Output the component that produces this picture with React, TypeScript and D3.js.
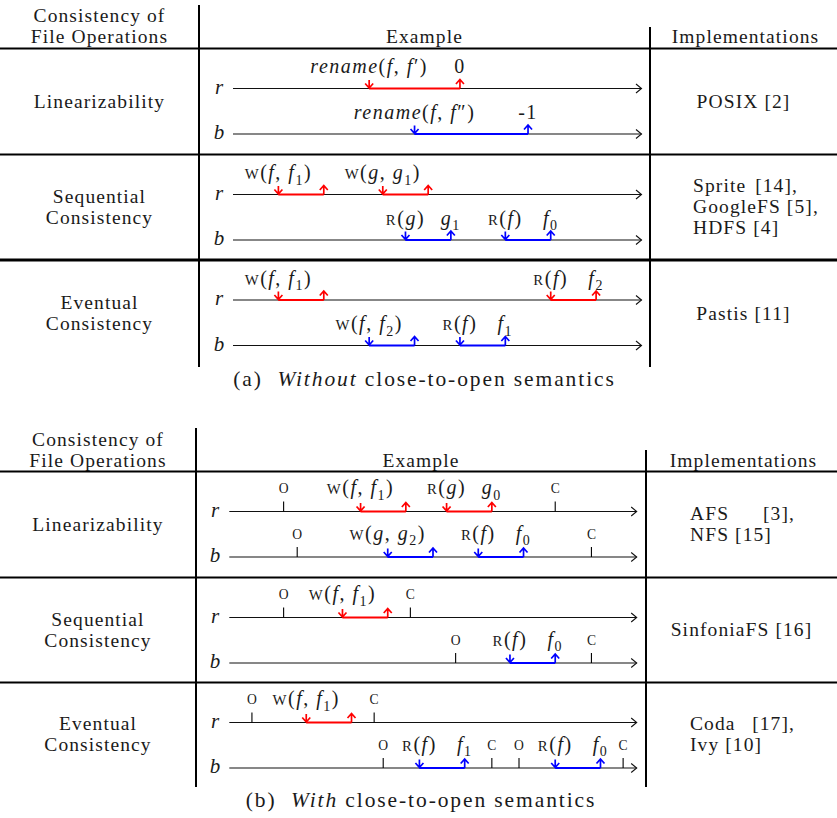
import React from "react";
import * as d3 from "d3";

type Seg = { t: string; i?: boolean; sub?: boolean; sc?: boolean };
const n = (t: string): Seg => ({ t });
const it = (t: string): Seg => ({ t, i: true });
const sc = (t: string): Seg => ({ t, sc: true });
const sb = (t: string): Seg => ({ t, sub: true });

const Wr = (a: string, b: string, s: string): Seg[] => [sc("W"), n("("), it(a), n(", "), it(b), sb(s), n(")")];
const Rd = (a: string): Seg[] => [sc("R"), n("("), it(a), n(")")];
const Vs = (a: string, s: string): Seg[] => [it(a), sb(s)];
const Rn = (p: string): Seg[] => [it("rename"), n("("), it("f"), n(", "), it("f"), n(p), n(")")];

type Ev = { track: number; s: number; e: number; ls: Seg[]; le: Seg[] };
type Tk = { track: number; p: number; l: string };
type Row = { name: string[]; impl: string[]; implMode: "center" | "justify"; events: Ev[]; ticks: Tk[] };

// ---------- Data ----------
const headerLeft = ["Consistency of", "File Operations"];
const headerMid = "Example";
const headerRight = "Implementations";
const trackNames = ["r", "b"];

const rowNamesA = [["Linearizability"], ["Sequential", "Consistency"], ["Eventual", "Consistency"]];
const implA = [["POSIX [2]"], ["Sprite|[14],", "GoogleFS [5],", "HDFS [4]"], ["Pastis [11]"]];
const implModeA: ("center" | "justify")[] = ["center", "justify", "center"];

const eventsA1: Ev[] = [
  { track: 0, s: 3.0, e: 5.0, ls: Rn("′"), le: [n("0")] },
  { track: 1, s: 4.0, e: 6.5, ls: Rn("″"), le: [n("-1")] },
];
const eventsA2: Ev[] = [
  { track: 0, s: 1.0, e: 2.0, ls: Wr("f", "f", "1"), le: [] },
  { track: 0, s: 3.3, e: 4.3, ls: Wr("g", "g", "1"), le: [] },
  { track: 1, s: 3.8, e: 4.8, ls: Rd("g"), le: Vs("g", "1") },
  { track: 1, s: 6.0, e: 7.0, ls: Rd("f"), le: Vs("f", "0") },
];
const eventsA3: Ev[] = [
  { track: 0, s: 1.0, e: 2.0, ls: Wr("f", "f", "1"), le: [] },
  { track: 0, s: 7.0, e: 8.0, ls: Rd("f"), le: Vs("f", "2") },
  { track: 1, s: 3.0, e: 4.0, ls: Wr("f", "f", "2"), le: [] },
  { track: 1, s: 5.0, e: 6.0, ls: Rd("f"), le: Vs("f", "1") },
];

const rowNamesB = [["Linearizability"], ["Sequential", "Consistency"], ["Eventual", "Consistency"]];
const implB = [["AFS|[3],", "NFS [15]"], ["SinfoniaFS [16]"], ["Coda|[17],", "Ivy [10]"]];
const implModeB: ("center" | "justify")[] = ["justify", "center", "justify"];

const eventsB1: Ev[] = [
  { track: 0, s: 2.9, e: 3.9, ls: Wr("f", "f", "1"), le: [] },
  { track: 0, s: 4.8, e: 5.8, ls: Rd("g"), le: Vs("g", "0") },
  { track: 1, s: 3.5, e: 4.5, ls: Wr("g", "g", "2"), le: [] },
  { track: 1, s: 5.5, e: 6.5, ls: Rd("f"), le: Vs("f", "0") },
];
const ticksB1: Tk[] = [
  { track: 0, p: 1.2, l: "O" }, { track: 0, p: 7.2, l: "C" },
  { track: 1, p: 1.5, l: "O" }, { track: 1, p: 8.0, l: "C" },
];
const eventsB2: Ev[] = [
  { track: 0, s: 2.5, e: 3.5, ls: Wr("f", "f", "1"), le: [] },
  { track: 1, s: 6.2, e: 7.2, ls: Rd("f"), le: Vs("f", "0") },
];
const ticksB2: Tk[] = [
  { track: 0, p: 1.2, l: "O" }, { track: 0, p: 4.0, l: "C" },
  { track: 1, p: 5.0, l: "O" }, { track: 1, p: 8.0, l: "C" },
];
const eventsB3: Ev[] = [
  { track: 0, s: 1.7, e: 2.7, ls: Wr("f", "f", "1"), le: [] },
  { track: 1, s: 4.2, e: 5.2, ls: Rd("f"), le: Vs("f", "1") },
  { track: 1, s: 7.2, e: 8.2, ls: Rd("f"), le: Vs("f", "0") },
];
const ticksB3: Tk[] = [
  { track: 0, p: 0.5, l: "O" }, { track: 0, p: 3.2, l: "C" },
  { track: 1, p: 3.4, l: "O" }, { track: 1, p: 5.8, l: "C" },
  { track: 1, p: 6.4, l: "O" }, { track: 1, p: 8.7, l: "C" },
];
const timeDomain = [0, 9];

const rowsA: Row[] = [eventsA1, eventsA2, eventsA3].map((ev, k) => ({
  name: rowNamesA[k], impl: implA[k], implMode: implModeA[k], events: ev, ticks: [],
}));
const rowsB: Row[] = [[eventsB1, ticksB1], [eventsB2, ticksB2], [eventsB3, ticksB3]].map((p, k) => ({
  name: rowNamesB[k], impl: implB[k], implMode: implModeB[k], events: p[0] as Ev[], ticks: p[1] as Tk[],
}));

// ---------- Style ----------
const FONT = "'Liberation Serif', 'Times New Roman', serif";
const FS = 19.5;
const LS = 1.1;
const LFS = 20;
const RED = "#ff0000";
const BLUE = "#0000ff";
const INK = "#1a1a1a";

function Label({ x, y, segs, size, anchor = "middle", ls = 1.5, scale = 0.74 }: { x: number; y: number; segs: Seg[]; size: number; anchor?: string; ls?: number; scale?: number }) {
  let cur = 0;
  const parts = segs.map((s, k) => {
    const target = s.sub ? size * 0.28 : 0;
    const dy = target - cur;
    cur = target;
    const fs = s.sub ? size * 0.7 : s.sc ? size * scale : size;
    return (
      <tspan key={k} dy={dy !== 0 ? dy : undefined} fontStyle={s.i ? "italic" : "normal"} fontSize={fs}>
        {s.t}
      </tspan>
    );
  });
  return (
    <text x={x} y={y} textAnchor={anchor as any} fontFamily={FONT} fontSize={size} letterSpacing={ls} fill={INK} style={{ whiteSpace: "pre" }}>
      {parts}
    </text>
  );
}

function T({ x, y, anchor = "start", children }: { x: number; y: number; anchor?: string; children: any }) {
  return (
    <text x={x} y={y} textAnchor={anchor as any} fontFamily={FONT} fontSize={FS} letterSpacing={LS} fill={INK}>{children}</text>
  );
}

type Geo = {
  vTop: number; rightTop: number; headerRule: number; rules: number[]; ruleW: number[]; bottom: number;
  leftX: number; rightX: number; x0: number; x1: number; letterX: number; hb1: number; hb2: number;
  labelOff: number; implLeft: number; implW: number; caption: Seg[]; captionY: number;
};

function Table({ rows, g }: { rows: Row[]; g: Geo }) {
  const x = d3.scaleLinear().domain(timeDomain).range([g.x0, g.x1]);
  const bounds = [g.headerRule, ...g.rules, g.bottom];
  const leftC = g.leftX / 2;
  const midC = (g.leftX + g.rightX) / 2;
  const rightC = (g.rightX + 837) / 2;
  return (
    <g>
      <T x={leftC} y={g.hb1} anchor="middle">{headerLeft[0]}</T>
      <T x={leftC} y={g.hb2} anchor="middle">{headerLeft[1]}</T>
      <T x={midC} y={g.hb2} anchor="middle">{headerMid}</T>
      <T x={rightC + 2} y={g.hb2} anchor="middle">{headerRight}</T>
      <line x1={0} x2={837} y1={g.headerRule} y2={g.headerRule} stroke="#000" strokeWidth={2} />
      {g.rules.map((r, k) => (
        <line key={k} x1={0} x2={837} y1={r} y2={r} stroke="#000" strokeWidth={g.ruleW[k]} />
      ))}
      <line x1={g.leftX} x2={g.leftX} y1={g.vTop} y2={g.bottom} stroke="#000" strokeWidth={2} />
      <line x1={g.rightX} x2={g.rightX} y1={g.rightTop} y2={g.bottom} stroke="#000" strokeWidth={2} />
      {rows.map((row, k) => {
        const top = bounds[k];
        const bot = bounds[k + 1];
        const mid = (top + bot) / 2;
        const ty = [top + 40, top + 85.5];
        const nl = row.name.length;
        const il = row.impl.length;
        return (
          <g key={k}>
            {row.name.map((t, j) => (
              <T key={j} x={leftC} y={mid + 6 + (j - (nl - 1) / 2) * 21} anchor="middle">{t}</T>
            ))}
            {row.impl.map((t, j) => {
              const y = mid + 6 + (j - (il - 1) / 2) * 21;
              if (row.implMode === "center")
                return <T key={j} x={rightC} y={y} anchor="middle">{t}</T>;
              if (t.includes("|")) {
                const [a, b] = t.split("|");
                return (
                  <g key={j}>
                    <T x={g.implLeft} y={y}>{a}</T>
                    <T x={g.implLeft + g.implW} y={y} anchor="end">{b}</T>
                  </g>
                );
              }
              return <T key={j} x={g.implLeft} y={y}>{t}</T>;
            })}
            {ty.map((y, t) => (
              <g key={t}>
                <text x={g.letterX} y={y + 5} textAnchor="middle" fontFamily={FONT} fontSize={21} fontStyle="italic" fill={INK}>{trackNames[t]}</text>
                <line x1={g.x0} x2={g.x1} y1={y} y2={y} stroke="#111" strokeWidth={1.1} />
                <path d={`M${g.x1 - 5.5},${y - 4.5} L${g.x1},${y} L${g.x1 - 5.5},${y + 4.5}`} fill="none" stroke="#111" strokeWidth={1.1} />
              </g>
            ))}
            {row.ticks.map((tk, j) => {
              const y = ty[tk.track];
              const xx = x(tk.p);
              return (
                <g key={"t" + j}>
                  <line x1={xx} x2={xx} y1={y - 10} y2={y} stroke="#000" strokeWidth={1.1} />
                  <Label x={xx} y={y - g.labelOff - 1} segs={[sc(tk.l)]} size={LFS} ls={0} scale={0.68} />
                </g>
              );
            })}
            {row.events.map((ev, j) => {
              const y = ty[ev.track];
              const c = ev.track === 0 ? RED : BLUE;
              const xs = x(ev.s);
              const xe = x(ev.e);
              return (
                <g key={"e" + j}>
                  <line x1={xs} x2={xe} y1={y} y2={y} stroke={c} strokeWidth={2.2} />
                  <path d={`M${xs},${y - 8.5} V${y} M${xs - 4},${y - 5} L${xs},${y - 0.5} L${xs + 4},${y - 5}`} fill="none" stroke={c} strokeWidth={1.7} />
                  <path d={`M${xe},${y} V${y - 8.5} M${xe - 4},${y - 4.5} L${xe},${y - 9} L${xe + 4},${y - 4.5}`} fill="none" stroke={c} strokeWidth={1.7} />
                  <Label x={xs} y={y - g.labelOff} segs={ev.ls} size={LFS} />
                  {ev.le.length > 0 && <Label x={xe} y={y - g.labelOff} segs={ev.le} size={LFS} />}
                </g>
              );
            })}
          </g>
        );
      })}
      <Label x={midC} y={g.captionY} segs={g.caption} size={21.5} ls={1.9} />
    </g>
  );
}

const geoA: Geo = {
  vTop: 5, rightTop: 27, headerRule: 48.5, rules: [154.5, 260], ruleW: [2, 3], bottom: 367,
  leftX: 199, rightX: 650, x0: 233, x1: 641.5, letterX: 219, hb1: 21.5, hb2: 42.5,
  labelOff: 15.5, implLeft: 693, implW: 105,
  caption: [n("(a)  "), it("Without"), n(" close-to-open semantics")], captionY: 386,
};
const geoB: Geo = {
  vTop: 428, rightTop: 450, headerRule: 471.5, rules: [577.5, 682.5], ruleW: [2, 2], bottom: 787,
  leftX: 196, rightX: 646, x0: 229.3, x1: 636.7, letterX: 215, hb1: 445.5, hb2: 466.5,
  labelOff: 17.5, implLeft: 690, implW: 105,
  caption: [n("(b)  "), it("With"), n(" close-to-open semantics")], captionY: 807,
};

export default function App() {
  return (
    <svg width={837} height={818} style={{ position: "absolute", left: 0, top: 0, background: "#fff" }}>
      <rect x={0} y={0} width={837} height={818} fill="#fff" />
      <Table rows={rowsA} g={geoA} />
      <Table rows={rowsB} g={geoB} />
    </svg>
  );
}
